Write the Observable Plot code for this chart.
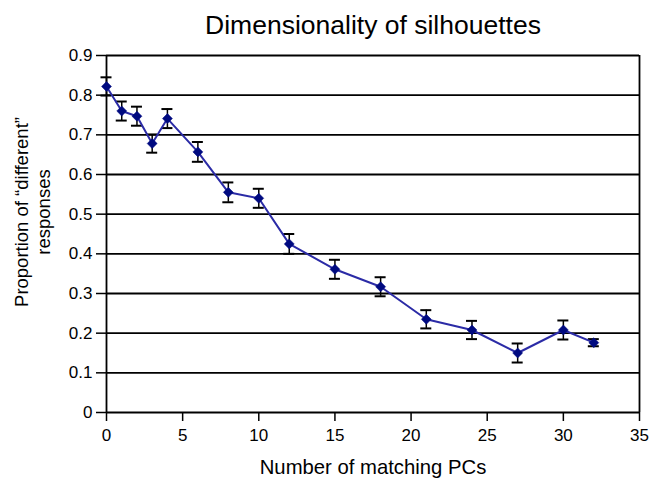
<!DOCTYPE html>
<html>
<head>
<meta charset="utf-8">
<script src="https://cdn.jsdelivr.net/npm/d3@7"></script>
<script src="https://cdn.jsdelivr.net/npm/@observablehq/plot@0.6"></script>
<style>
  body { margin: 0; background: #fff; }
  svg { display: block; }
</style>
</head>
<body>
<div id="chart"></div>
<script>
// Number of matching principal components between silhouette pairs
const matchingPCs = [0, 1, 2, 3, 4, 6, 8, 10, 12, 15, 18, 21, 24, 27, 30, 32];
// Mean proportion of "different" responses
const proportion = [0.822, 0.760, 0.747, 0.678, 0.741, 0.657, 0.555, 0.540, 0.425, 0.361, 0.317, 0.235, 0.208, 0.150, 0.208, 0.176];
// Standard error of each mean
const stdError = [0.023, 0.024, 0.024, 0.023, 0.024, 0.025, 0.025, 0.024, 0.025, 0.024, 0.024, 0.023, 0.023, 0.024, 0.024, 0.009];

const yTicks = [0, 0.1, 0.2, 0.3, 0.4, 0.5, 0.6, 0.7, 0.8, 0.9];
const xTicks = [0, 5, 10, 15, 20, 25, 30, 35];

const titleText = "Dimensionality of silhouettes";
const xLabel = "Number of matching PCs";
const yLabel = "Proportion of \u201cdifferent\u201d\nresponses";

const rows = matchingPCs.map((x, i) => ({
  x,
  y: proportion[i],
  lo: proportion[i] - stdError[i],
  hi: proportion[i] + stdError[i]
}));

const font = "'Liberation Sans', Arial, Helvetica, sans-serif";

const chart = Plot.plot({
  width: 649,
  height: 480,
  marginLeft: 106,
  marginRight: 10,
  marginTop: 55,
  marginBottom: 68,
  style: { fontFamily: font, color: "#000", background: "#fff", overflow: "visible" },
  x: { domain: [0, 35] },
  y: { domain: [0, 0.9] },
  marks: [
    // horizontal gridlines
    Plot.ruleY(yTicks, { stroke: "#000", strokeWidth: 1.8 }),
    // frame sides
    Plot.ruleX([0], { stroke: "#000", strokeWidth: 1.8 }),
    Plot.ruleX([35], { stroke: "#000", strokeWidth: 1.8 }),
    Plot.axisY(yTicks, {
      tickSize: 10, tickPadding: 4, fontSize: 17, strokeWidth: 1.5,
      tickFormat: d => String(+d.toFixed(1)), label: null
    }),
    Plot.axisX(xTicks, {
      tickSize: 9, tickPadding: 7, fontSize: 17, strokeWidth: 1.5,
      tickFormat: d => String(d), label: null
    }),
    // error bars
    Plot.ruleX(rows, { x: "x", y1: "lo", y2: "hi", stroke: "#000", strokeWidth: 1.5 }),
    Plot.ruleY(rows, { y: "lo", x1: "x", x2: "x", insetLeft: -5.5, insetRight: -5.5, stroke: "#000", strokeWidth: 2 }),
    Plot.ruleY(rows, { y: "hi", x1: "x", x2: "x", insetLeft: -5.5, insetRight: -5.5, stroke: "#000", strokeWidth: 2 }),
    // mean line and markers
    Plot.line(rows, { x: "x", y: "y", stroke: "#2b2ba6", strokeWidth: 2 }),
    Plot.dot(rows, { x: "x", y: "y", symbol: "diamond2", r: 4.5, fill: "#000a80", stroke: "#000a80", strokeWidth: 0.5 }),
    // title and axis labels
    Plot.text([titleText], { frameAnchor: "top", dy: -30, lineAnchor: "middle", fontSize: 26.5, fill: "#000" }),
    Plot.text([xLabel], { frameAnchor: "bottom", dy: 55, lineAnchor: "middle", fontSize: 20.3, fill: "#000" }),
    Plot.text([yLabel], {
      frameAnchor: "left", textAnchor: "middle", dx: -75, dy: -22, rotate: -90,
      lineAnchor: "middle", lineHeight: 1.2, fontSize: 18.5, fill: "#000"
    })
  ]
});

document.getElementById("chart").appendChild(chart);
</script>
</body>
</html>
